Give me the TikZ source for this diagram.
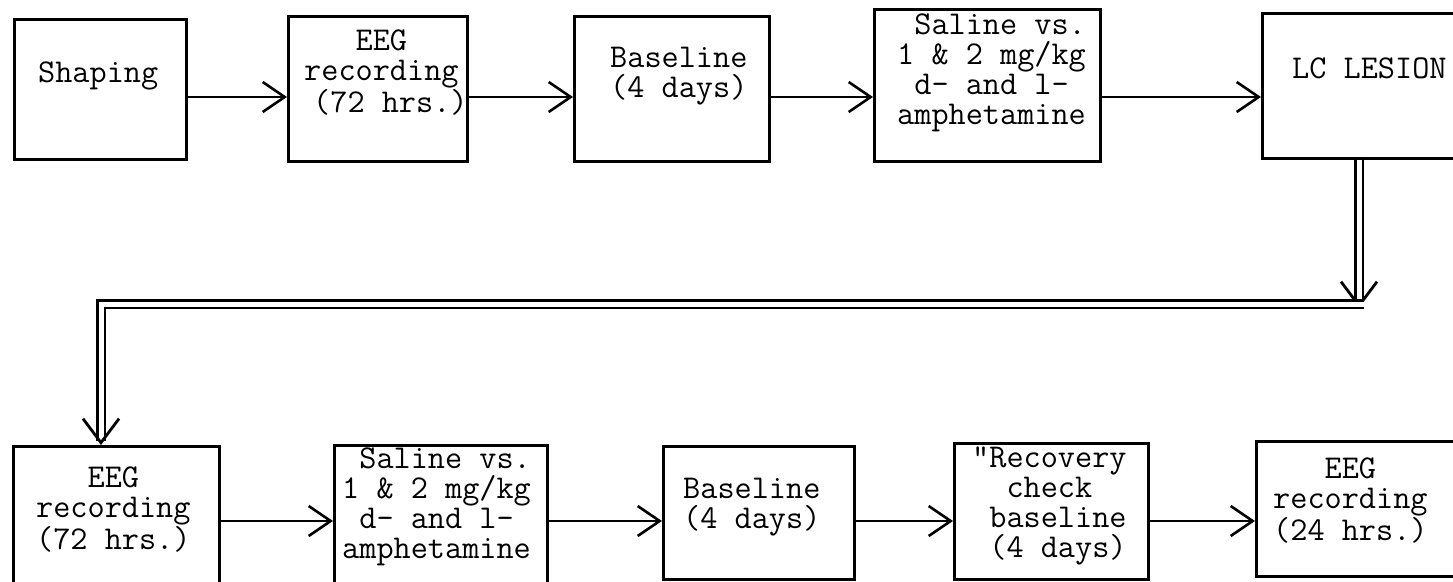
\documentclass[tikz,border=0pt]{standalone}
\usetikzlibrary{arrows.meta}
\tikzset{
  box/.style={draw, line width=2.6pt, rectangle, inner sep=0pt, anchor=north west},
  txt/.style={font=\ttfamily\fontsize{33.3}{30}\selectfont, align=left, inner sep=0pt, anchor=base west},
  arr/.style={line width=2.6pt, -{Straight Barb[length=22pt,width=30pt]}},
  dbl/.style={double, double distance=5pt, line width=2.6pt, -{Straight Barb[length=24pt,width=36pt,line width=2.8pt]}},
}
\begin{document}
\begin{tikzpicture}[x=1pt, y=-1pt]
\clip (0,0) rectangle (1453,581);
% top row
\node[box, minimum width=172pt, minimum height=140pt] (b1) at (13,18) {};
\node[box, minimum width=179pt, minimum height=145pt] (b2) at (287,15) {};
\node[box, minimum width=195pt, minimum height=145pt] (b3) at (573,15) {};
\node[box, minimum width=226pt, minimum height=152pt] (b4) at (873,8) {};
\node[box, minimum width=209pt, minimum height=145pt] (b5) at (1261,12) {};
% bottom row
\node[box, minimum width=206pt, minimum height=140pt] (b6) at (12,445) {};
\node[box, minimum width=213pt, minimum height=141pt] (b7) at (333,444) {};
\node[box, minimum width=191pt, minimum height=133pt] (b8) at (662,445) {};
\node[box, minimum width=194pt, minimum height=136pt] (b9) at (953,442) {};
\node[box, minimum width=215pt, minimum height=135pt] (b10) at (1255,440) {};
% texts (anchored at the baseline of the last line)
\node[txt] (t1) at (38,82) {Shaping};
\node[txt] (t2) at (304,112) {~~~EEG\\recording\\\hspace*{9pt}(72 hrs.)};
\node[txt] (t3) at (610,97) {Baseline\\(4 days)};
\node[txt] (t4) at (897,124) {~Saline vs.\\1 \& 2 mg/kg\\~d- and l-\\amphetamine};
\node[txt] (t5) at (1292,78) {LC LESION};
\node[txt] (t6) at (36,549) {~~~EEG\\recording\\(72 hrs.)};
\node[txt] (t7) at (342,558) {~Saline vs.\\1 \& 2 mg/kg\\~d- and l-\\amphetamine};
\node[txt] (t8) at (683,528) {Baseline\\(4 days)};
\node[txt] (t9) at (972,557) {"Recovery\\~~check\\~baseline\\~(4 days)};
\node[txt] (t10) at (1273,540) {~~~EEG\\recording\\(24 hrs.)};
% connectors
\coordinate (rA) at (0,97);
\coordinate (rB) at (0,521);
\draw[arr] (b1.east |- rA) -- (b2.west |- rA);
\draw[arr] (b2.east |- rA) -- (b3.west |- rA);
\draw[arr] (b3.east |- rA) -- (b4.west |- rA);
\draw[arr] (b4.east |- rA) -- (b5.west |- rA);
\draw[arr] (b6.east |- rB) -- (b7.west |- rB);
\draw[arr] (b7.east |- rB) -- (b8.west |- rB);
\draw[arr] (b8.east |- rB) -- (b9.west |- rB);
\draw[arr] (b9.east |- rB) -- (b10.west |- rB);
\coordinate (c0) at (1364,304);
\coordinate (c1) at (1359,308);
\coordinate (c2) at (101,304);
\draw[dbl] (b5.south -| c1) -- (c1);
\draw[dbl] (c0) -- (c2) -- (c2 |- b6.north);
\end{tikzpicture}
\end{document}
